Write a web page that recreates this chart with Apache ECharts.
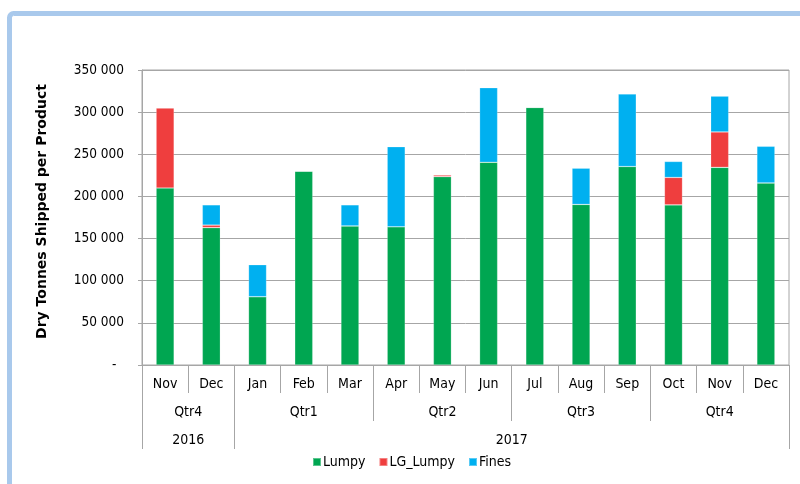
<!DOCTYPE html>
<html>
<head>
<meta charset="utf-8">
<script src="https://cdn.jsdelivr.net/npm/echarts@6/dist/echarts.min.js"></script>
<style>
  html, body { margin: 0; padding: 0; background: #ffffff; }
  #chart { width: 800px; height: 484px; }
</style>
</head>
<body>
<div id="chart"></div>
<script>
// Monthly shipments, Nov 2016 - Dec 2017 (dry tonnes)
const months = ['Nov', 'Dec', 'Jan', 'Feb', 'Mar', 'Apr', 'May', 'Jun', 'Jul', 'Aug', 'Sep', 'Oct', 'Nov', 'Dec'];
const lumpy   = [210000, 163000, 81000, 230000, 165000, 164000, 223500, 240500, 305500, 190500, 235500, 190000, 234500, 216000];
const lgLumpy = [95000, 3000, 0, 0, 0, 0, 2000, 0, 0, 0, 0, 32500, 42000, 0];
const fines   = [0, 24000, 38000, 0, 25000, 95000, 0, 88500, 0, 43000, 86000, 19000, 42500, 43500];

// Grouping rows under the month axis
const quarterLabels = ['Qtr4', 'Qtr1', 'Qtr2', 'Qtr3', 'Qtr4'];
const quarterSpans  = [2, 3, 3, 3, 3];
const yearLabels    = ['2016', '2017'];
const yearSpans     = [2, 12];

const yTicks = { min: 0, max: 350000, step: 50000 };

const FONT = '"DejaVu Sans Condensed", "DejaVu Sans", sans-serif';
const GRID_COLOR = '#a6a6a6';
const COLORS = { lumpy: '#00a651', lg: '#ef3e3e', fines: '#00b0f0' };

// boundaries and centres of a group row (in month units)
function groupLayout(spans) {
  const bounds = [0];
  const centers = [];
  spans.forEach(s => {
    const start = bounds[bounds.length - 1];
    centers.push(start + s / 2);
    bounds.push(start + s);
  });
  return { bounds, centers };
}
const qLayout = groupLayout(quarterSpans);
const yLayout = groupLayout(yearSpans);

function groupAxis(layout, labels, offset) {
  return {
    type: 'value',
    gridIndex: 0,
    position: 'bottom',
    offset: offset,
    min: 0,
    max: months.length,
    axisLine: { show: false },
    splitLine: { show: false },
    axisTick: {
      show: true,
      customValues: layout.bounds,
      length: 28,
      lineStyle: { color: GRID_COLOR, width: 1 }
    },
    axisLabel: {
      show: true,
      customValues: layout.centers,
      margin: 12,
      fontFamily: FONT,
      fontSize: 14,
      color: '#000',
      formatter: function (v) {
        const i = layout.centers.findIndex(c => Math.abs(c - v) < 1e-6);
        return i >= 0 ? labels[i] : '';
      }
    }
  };
}

// accounting style: thousands separated by spaces, zero shown as a dash
function fmtThousands(v) {
  if (v === 0) return '-  ';
  const s = String(Math.round(v));
  return s.replace(/\B(?=(\d{3})+(?!\d))/g, ' ');
}

const barCommon = {
  type: 'bar',
  stack: 'total',
  barWidth: 18,
  itemStyle: { borderColor: 'rgba(255,255,255,0.35)', borderWidth: 0.6 },
  emphasis: { disabled: true }
};

const chart = echarts.init(document.getElementById('chart'), null, { renderer: 'canvas' });

chart.setOption({
  animation: false,
  backgroundColor: '#ffffff',
  textStyle: { fontFamily: FONT },
  graphic: [{
    type: 'rect',
    shape: { x: 9.5, y: 13.5, width: 900, height: 600, r: 4 },
    style: { fill: 'none', stroke: '#a9c9ec', lineWidth: 5 },
    silent: true,
    z: -10
  }],
  grid: {
    left: 142, right: 11, top: 70, bottom: 119,
    show: true,
    borderColor: GRID_COLOR,
    borderWidth: 1,
    containLabel: false
  },
  legend: {
    left: 307,
    top: 450,
    itemWidth: 8,
    itemHeight: 8,
    itemGap: 13,
    icon: 'rect',
    textStyle: { fontFamily: FONT, fontSize: 14, color: '#000', padding: [0, 0, 0, -3] },
    data: ['Lumpy', 'LG_Lumpy', 'Fines']
  },
  xAxis: [
    {
      type: 'category',
      data: months,
      boundaryGap: true,
      axisLine: { show: true, lineStyle: { color: GRID_COLOR, width: 1 } },
      axisTick: {
        show: true,
        interval: 0,
        length: 28,
        lineStyle: { color: GRID_COLOR, width: 1 }
      },
      axisLabel: {
        interval: 0,
        margin: 12,
        fontFamily: FONT,
        fontSize: 14,
        color: '#000'
      },
      splitLine: { show: false }
    },
    groupAxis(qLayout, quarterLabels, 28),
    groupAxis(yLayout, yearLabels, 56)
  ],
  yAxis: {
    type: 'value',
    min: yTicks.min,
    max: yTicks.max,
    interval: yTicks.step,
    name: 'Dry Tonnes Shipped per Product',
    nameLocation: 'middle',
    nameGap: 93,
    nameTextStyle: { fontFamily: '"DejaVu Sans", sans-serif', fontSize: 14, fontWeight: 'bold', color: '#000', padding: [0, 0, 0, 12] },
    axisLine: { show: true, lineStyle: { color: GRID_COLOR, width: 1 } },
    axisTick: { show: true, length: 4, lineStyle: { color: GRID_COLOR } },
    axisLabel: {
      margin: 18,
      fontFamily: FONT,
      fontSize: 13.5,
      color: '#000',
      formatter: fmtThousands
    },
    splitLine: { show: true, lineStyle: { color: GRID_COLOR, width: 1 } }
  },
  series: [
    Object.assign({}, barCommon, { name: 'Lumpy', data: lumpy, itemStyle: Object.assign({}, barCommon.itemStyle, { color: COLORS.lumpy }) }),
    Object.assign({}, barCommon, { name: 'LG_Lumpy', data: lgLumpy, itemStyle: Object.assign({}, barCommon.itemStyle, { color: COLORS.lg }) }),
    Object.assign({}, barCommon, { name: 'Fines', data: fines, itemStyle: Object.assign({}, barCommon.itemStyle, { color: COLORS.fines }) })
  ]
});
</script>
</body>
</html>
